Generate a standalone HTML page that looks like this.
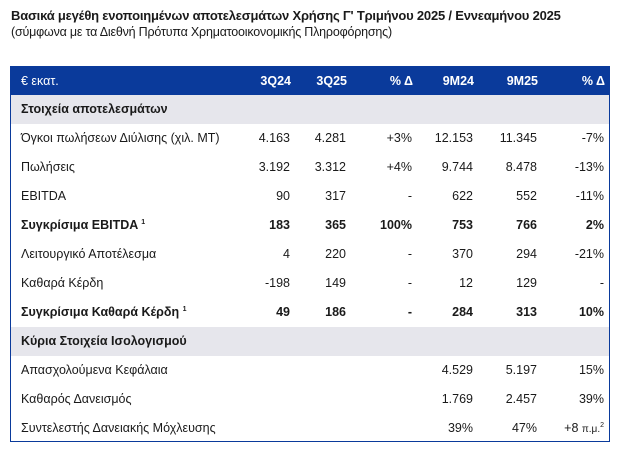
<!DOCTYPE html>
<html><head><meta charset="utf-8"><style>
body{margin:0;width:622px;height:454px;background:#fff;font-family:"Liberation Sans",sans-serif;color:#1a1a1a;position:relative;overflow:hidden}
.t{position:absolute;left:11px;top:8px;font-size:13px;font-weight:bold;letter-spacing:-0.2px}
.s{position:absolute;left:11px;top:25px;font-size:12.5px;letter-spacing:-0.2px}
.box{position:absolute;left:10px;top:66px;width:600px;height:376px;border:1px solid #0a3a9b;box-sizing:border-box}
.r{position:absolute;left:0;width:598px;height:29px;font-size:12.5px}
.r span{position:absolute;top:7px;white-space:nowrap}
.hd{background:#0a3a9b;color:#fff;height:28px;top:0;font-weight:bold}
.hd span{top:7px}
.g{background:#e6e6ec;font-weight:bold}
.b{font-weight:bold}
.l{left:10px}
sup{font-size:7px}
</style></head><body>
<div class="t">Βασικά μεγέθη ενοποιημένων αποτελεσμάτων Χρήσης Γ' Τριμήνου 2025 / Εννεαμήνου 2025</div>
<div class="s">(σύμφωνα με τα Διεθνή Πρότυπα Χρηματοοικονομικής Πληροφόρησης)</div>
<div class="box" id="tb"></div>
<script>
const cols=[279,335,401,462,526,593];
const headers=['3Q24','3Q25','% Δ','9M24','9M25','% Δ'];
const rows=[
['g','Στοιχεία αποτελεσμάτων'],
['','Όγκοι πωλήσεων Διύλισης (χιλ. ΜΤ)','4.163','4.281','+3%','12.153','11.345','-7%'],
['','Πωλήσεις','3.192','3.312','+4%','9.744','8.478','-13%'],
['','EBITDA','90','317','-','622','552','-11%'],
['b','Συγκρίσιμα EBITDA <sup>1</sup>','183','365','100%','753','766','2%'],
['','Λειτουργικό Αποτέλεσμα','4','220','-','370','294','-21%'],
['','Καθαρά Κέρδη','-198','149','-','12','129','-'],
['b','Συγκρίσιμα Καθαρά Κέρδη <sup>1</sup>','49','186','-','284','313','10%'],
['g','Κύρια Στοιχεία Ισολογισμού'],
['','Απασχολούμενα Κεφάλαια','','','','4.529','5.197','15%'],
['','Καθαρός Δανεισμός','','','','1.769','2.457','39%'],
['','Συντελεστής Δανειακής Μόχλευσης','','','','39%','47%','+8 <span style="position:static;font-size:10px">π.μ.</span><sup>2</sup>']
];
const tb=document.getElementById('tb');
let h=document.createElement('div');h.className='r hd';


let hh='<span class="l" style="font-weight:normal">€ εκατ.</span>';
headers.forEach((t,i)=>{hh+=`<span style="right:${598-cols[i]-1}px">${t}</span>`});
h.innerHTML=hh;tb.appendChild(h);
rows.forEach((r,k)=>{
 const d=document.createElement('div');d.className='r '+r[0];d.style.top=(28+k*29)+'px';
 
 
 let s=`<span class="l">${r[1]}</span>`;
 for(let i=2;i<r.length;i++){if(r[i]!=='')s+=`<span style="right:${598-cols[i-2]}px">${r[i]}</span>`}
 d.innerHTML=s;tb.appendChild(d);
});
</script>
</body></html>
